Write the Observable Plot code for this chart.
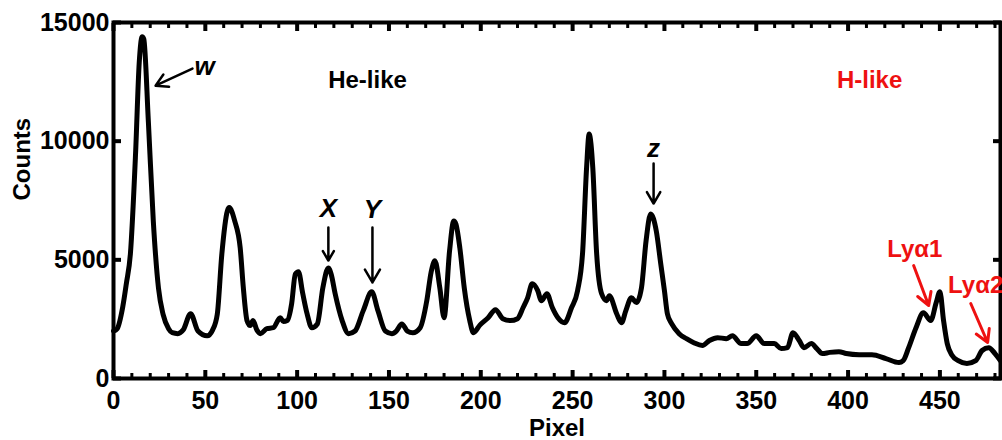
<!DOCTYPE html>
<html><head><meta charset="utf-8">
<script src="https://cdn.jsdelivr.net/npm/d3@7"></script>
<script src="https://cdn.jsdelivr.net/npm/@observablehq/plot@0.6"></script>
<style>
html,body{margin:0;padding:0;background:#fff;}
#chart{width:1002px;height:440px;overflow:hidden;}
</style></head><body><div id="chart"></div>
<script>
// Spectrum: pixel vs counts
const pixel = [0,2,5,7,9.2,12,14,15.6,16.5,19,21.7,24.5,27,30,32,35,38,42,46,51,54,56.5,59,62,63,66,69,70.7,72.7,74.5,76,78,80,83.5,87,90.8,92.5,94.6,97,99,100.7,103,105.4,108,111,114,117,118.5,120.7,124.5,128,131.5,136,140.6,144,148,151.6,154,157,160,163,167,170.6,173,175,177.7,180,183,185.3,186.5,188.6,191,194,196,199.5,204,208,212,216,220,223,225.5,228,231,233,236,239,242,245.6,249.4,252.7,255.5,257.6,259,261,263,265.8,268.5,270,274,276.6,279,282,284.8,287.5,290,292.5,295.6,298,300,301.6,304,308,312,316,320.7,324.5,329,333.7,337,341.8,345,350,354.3,359.8,363.6,367,370,373.4,376,380,383,386,390,395,399,406,413,420.6,427.7,430,433,437,441,445,448,450,452,454,456.7,460,464.7,469.5,473,476.6,480,483];
const counts = [2000,2100,3000,4000,5250,9450,13300,14400,14300,10800,6600,3800,2700,2100,1930,1890,2050,2730,2000,1800,2050,2700,5250,7060,7200,6640,5500,3820,2440,2230,2440,2050,1890,2100,2140,2560,2400,2440,3150,4400,4500,3600,2730,2140,2300,3820,4660,4400,3570,2440,1890,2000,2860,3650,2860,2000,1890,2000,2300,2000,1930,2140,3280,4500,4960,3820,2560,5380,6640,6500,5500,3820,2440,1930,2250,2560,2900,2520,2440,2520,2980,3400,3990,3700,3280,3570,2980,2560,2350,2980,3700,5380,8870,10300,8870,5380,3570,3280,3490,2730,2350,2860,3400,3200,3820,5800,6930,6200,4830,3700,2730,2300,1890,1680,1510,1390,1600,1720,1680,1800,1470,1470,1800,1470,1470,1260,1300,1930,1600,1300,1470,1260,1050,1100,1130,1050,1000,1000,840,670,750,1300,2140,2770,2440,3200,3650,2440,1470,970,750,630,750,1180,1300,1050,750];

const xTicks = [0,50,100,150,200,250,300,350,400,450];
const xMinorTicks = [10,20,30,40,60,70,80,90,110,120,130,140,160,170,180,190,210,220,230,240,260,270,280,290,310,320,330,340,360,370,380,390,410,420,430,440,460,470,480];
const yTicks = [0,5000,10000,15000];

// line annotations (black, italic)
const lineNames = ["w","X","Y","z"];
const lineNameX = [49.6,117,141,294.1];
const lineNameY = [13140,7160,7120,9700];
const lineArrowX1 = [43,117,141,294.1];
const lineArrowY1 = [13060,6360,6360,9060];
const lineArrowX2 = [22.9,117,141,294.1];
const lineArrowY2 = [12340,4970,4045,7370];

// region annotations
const regionNames = ["He-like","H-like"];
const regionX = [138.3,411.7];
const regionY = [12555,12555];

// Lyman alpha annotations (red)
const lyNames = ["Lyα1","Lyα2"];
const lyX = [436.3,469.5];
const lyY = [5435,3918];
const lyArrowX1 = [435.7,466.8];
const lyArrowY1 = [4760,3160];
const lyArrowX2 = [443.9,476];
const lyArrowY2 = [3075,1517];

const spectrum = pixel.map((p,i)=>({pixel:p, counts:counts[i]}));
const lineAnn = lineNames.map((t,i)=>({t, x:lineNameX[i], y:lineNameY[i], x1:lineArrowX1[i], y1:lineArrowY1[i], x2:lineArrowX2[i], y2:lineArrowY2[i]}));
const regionAnn = regionNames.map((t,i)=>({t, x:regionX[i], y:regionY[i]}));
const lyAnn = lyNames.map((t,i)=>({t, x:lyX[i], y:lyY[i], x1:lyArrowX1[i], y1:lyArrowY1[i], x2:lyArrowX2[i], y2:lyArrowY2[i]}));

const RED = "#ee1111";
const plain = d3.format("d");

const chart = Plot.plot({
  width: 1002, height: 440,
  marginLeft: 113, marginRight: 2, marginTop: 22, marginBottom: 62,
  style: {fontFamily: "'Liberation Sans', Arial, sans-serif", background: "#fff", color: "#000"},
  x: {domain: [0, 483], label: null},
  y: {domain: [0, 15000], label: null},
  marks: [
    // tick labels
    Plot.axisX(xTicks, {anchor: "bottom", tickSize: 0, tickPadding: 13, fontSize: 25, fontWeight: "bold", tickFormat: plain, label: null}),
    Plot.axisY(yTicks, {anchor: "left", tickSize: 0, tickPadding: 4, fontSize: 25, fontWeight: "bold", tickFormat: plain, label: null}),
    // inward ticks
    Plot.axisX(xMinorTicks, {anchor: "bottom", tickSize: 5, dy: -5, strokeWidth: 3, tickFormat: () => "", label: null}),
    Plot.axisX(xTicks, {anchor: "bottom", tickSize: 8, dy: -8, strokeWidth: 4, tickFormat: () => "", label: null}),
    Plot.axisX(xMinorTicks, {anchor: "top", tickSize: 5, dy: 5, strokeWidth: 3, tickFormat: () => "", label: null}),
    Plot.axisX(xTicks, {anchor: "top", tickSize: 8, dy: 8, strokeWidth: 4, tickFormat: () => "", label: null}),
    Plot.axisY(yTicks, {anchor: "left", tickSize: 8, dx: 8, strokeWidth: 4, tickFormat: () => "", label: null}),
    Plot.axisY(yTicks, {anchor: "right", tickSize: 8, dx: -8, strokeWidth: 4, tickFormat: () => "", label: null}),
    Plot.frame({stroke: "#000", strokeWidth: 4}),
    // axis titles
    Plot.text(["Pixel"], {frameAnchor: "bottom", dy: 57, fontSize: 24, fontWeight: "bold", fill: "#000"}),
    Plot.text(["Counts"], {frameAnchor: "left", dx: -91, rotate: -90, fontSize: 24, fontWeight: "bold", fill: "#000"}),
    // spectrum
    Plot.line(spectrum, {x: "pixel", y: "counts", curve: "monotone-x", stroke: "#000", strokeWidth: 5, strokeLinejoin: "round", strokeLinecap: "round"}),
    // annotations
    Plot.arrow(lineAnn, {x1: "x1", y1: "y1", x2: "x2", y2: "y2", stroke: "#000", strokeWidth: 2.5, headLength: 9}),
    Plot.text(lineAnn, {x: "x", y: "y", text: "t", fontSize: 26, fontWeight: "bold", fontStyle: "italic", fill: "#000"}),
    Plot.text(regionAnn.slice(0,1), {x: "x", y: "y", text: "t", fontSize: 24, fontWeight: "bold", fill: "#000"}),
    Plot.text(regionAnn.slice(1), {x: "x", y: "y", text: "t", fontSize: 24, fontWeight: "bold", fill: RED}),
    Plot.arrow(lyAnn, {x1: "x1", y1: "y1", x2: "x2", y2: "y2", stroke: RED, strokeWidth: 3, headLength: 9}),
    Plot.text(lyAnn, {x: "x", y: "y", text: "t", fontSize: 24, fontWeight: "bold", fill: RED})
  ]
});
document.getElementById("chart").appendChild(chart);
</script>
</body></html>
